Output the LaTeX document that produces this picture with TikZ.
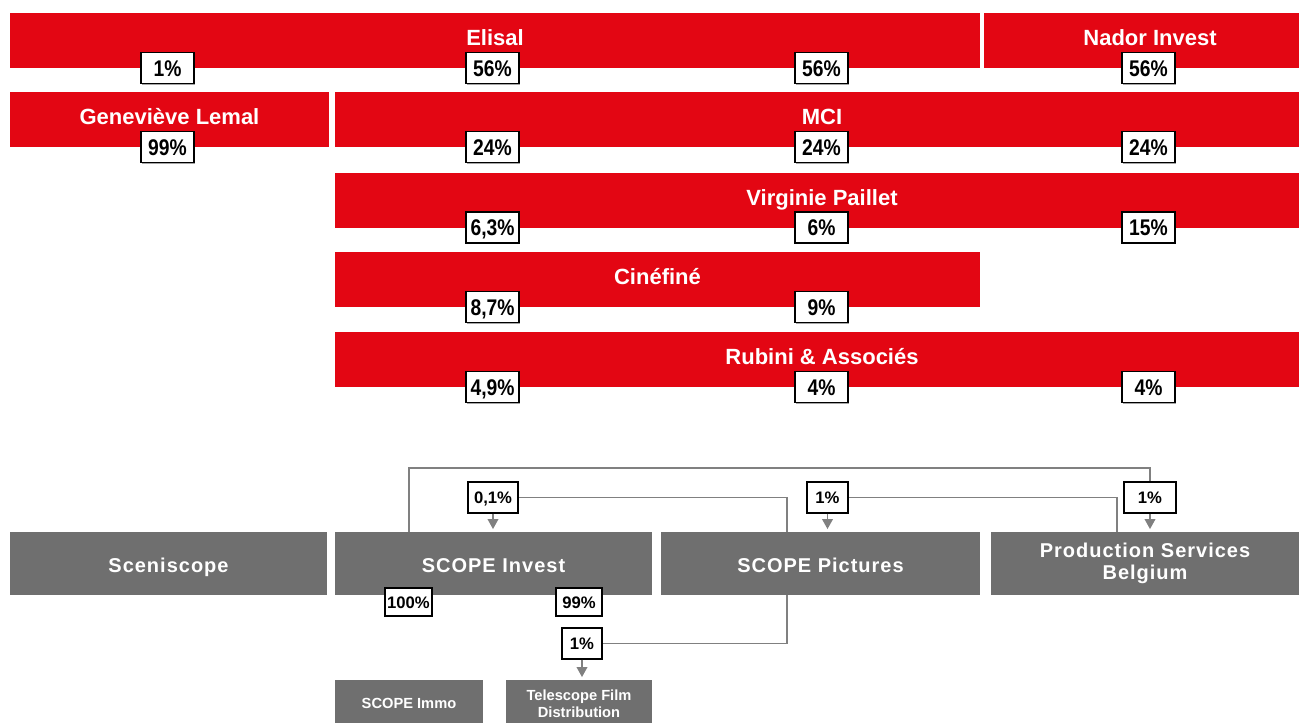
\documentclass[tikz,border=0pt]{standalone}
\usepackage{fontspec}
\setmainfont{Liberation Sans}
\newfontfamily\condfont{Liberation Sans}[FakeStretch=0.85]
\newfontfamily\spacedfont{Liberation Sans}[LetterSpace=5]
\usetikzlibrary{arrows.meta,shadows}
\definecolor{scred}{HTML}{E30613}
\definecolor{scgray}{HTML}{6F6F6F}
\definecolor{scline}{HTML}{808080}
\tikzset{
  box/.style 2 args={minimum width=#1*0.75pt, minimum height=#2*0.75pt},
  redbox/.style={fill=scred, text=white, inner sep=0pt,
    font=\bfseries\fontsize{16.5}{18}\selectfont, text height=12pt, text depth=5.25pt},
  graybox/.style={fill=scgray, text=white, inner sep=0pt, align=center,
    font=\spacedfont\bfseries\fontsize{15}{16.5}\selectfont},
  grayone/.style={graybox, text height=13.6pt, text depth=0pt},
  smallgray/.style={fill=scgray, text=white, inner sep=0pt, align=center,
    font=\bfseries\fontsize{11}{12.75}\selectfont},
  pctred/.style={fill=white, draw=black, line width=1.2pt, inner sep=0pt,
    minimum width=53*0.75pt, minimum height=31*0.75pt,
    drop shadow={shadow xshift=0.6pt, shadow yshift=-0.8pt, fill=black!35, opacity=1},
    font=\condfont\bfseries\fontsize{17}{18}\selectfont, text height=12.3pt, text depth=0pt},
  pctgray/.style={fill=white, draw=black, line width=0.9pt, inner sep=0pt,
    font=\bfseries\fontsize{12.5}{13}\selectfont, text height=9pt, text depth=0pt},
  conn/.style={draw=scline, line width=1.1pt},
  arr/.style={draw=scline, line width=1.1pt, shorten >=2pt, -{Triangle[width=8pt,length=7.5pt]}}
}
\begin{document}
\begin{tikzpicture}[x=0.75pt,y=-0.75pt]
\useasboundingbox (0,0) rectangle (1299,722);
\clip (0,0) rectangle (1299,722);

% red owners
\node[redbox, box={970}{55}] (elisal) at (495,40.5) {Elisal};
\node[redbox, box={332}{55}] (nador) at (1150,40.5) {Nador Invest};
\node[redbox, box={319}{55}] (lemal) at (169.5,119.5) {Geneviève Lemal};
\node[redbox, box={974}{55}] (mci) at (822,119.5) {MCI};
\node[redbox, box={974}{55}] (paillet) at (822,200.5) {Virginie Paillet};
\node[redbox, box={645}{55}] (cinefine) at (657.5,279.5) {Cinéfiné};
\node[redbox, box={974}{55}] (rubini) at (822,359.5) {Rubini \& Associés};

% percentages on red rows
\node[pctred] (e1) at (167.5,68) {1\%};
\node[pctred] (e2) at (492.5,68) {56\%};
\node[pctred] (e3) at (821.5,68) {56\%};
\node[pctred] (e4) at (1148.5,68) {56\%};
\node[pctred] (m1) at (167.5,147) {99\%};
\node[pctred] (m2) at (492.5,147) {24\%};
\node[pctred] (m3) at (821.5,147) {24\%};
\node[pctred] (m4) at (1148.5,147) {24\%};
\node[pctred] (v2) at (492.5,227.5) {6,3\%};
\node[pctred] (v3) at (821.5,227.5) {6\%};
\node[pctred] (v4) at (1148.5,227.5) {15\%};
\node[pctred] (c2) at (492.5,307) {8,7\%};
\node[pctred] (c3) at (821.5,307) {9\%};
\node[pctred] (r2) at (492.5,387) {4,9\%};
\node[pctred] (r3) at (821.5,387) {4\%};
\node[pctred] (r4) at (1148.5,387) {4\%};

% gray companies
\node[grayone, box={317}{63}] (sceniscope) at (168.5,563.5) {Sceniscope};
\node[grayone, box={317}{63}] (invest) at (493.5,563.5) {SCOPE Invest};
\node[grayone, box={319}{63}] (pictures) at (820.5,563.5) {SCOPE Pictures};
\node[graybox, box={308}{63}] (psb) at (1145,563.5) {Production Services\\Belgium};
\node[smallgray, box={148}{46}] (immo) at (409,703) {SCOPE Immo};
\node[smallgray, box={146}{48}] (telescope) at (579,704) {Telescope Film\\Distribution};

% percentage labels on gray part
\node[pctgray, box={50}{31}] (p01) at (493,497.5) {0,1\%};
\node[pctgray, box={41}{31}] (p1pic) at (827.5,497.5) {1\%};
\node[pctgray, box={52}{31}] (p1psb) at (1150,497.5) {1\%};
\node[pctgray, box={47}{28}] (p100) at (408.5,602) {100\%};
\node[pctgray, box={46}{28}] (p99) at (579,602) {99\%};
\node[pctgray, box={40}{31}] (p1tel) at (582,643.5) {1\%};

% connectors
\coordinate (kA) at (409,468);
\coordinate (kB) at (787,0);
\coordinate (kC) at (1117,0);
\draw[conn] (invest.north -| kA) -- (kA) -| (p1psb.north);
\draw[conn] (pictures.north -| kB) |- (p01.east);
\draw[conn] (psb.north -| kC) |- (p1pic.east);
\draw[conn] (pictures.south -| kB) |- (p1tel.east);
\draw[arr] (p01.south) -- (p01.south |- invest.north);
\draw[arr] (p1pic.south) -- (p1pic.south |- pictures.north);
\draw[arr] (p1psb.south) -- (p1psb.south |- psb.north);
\draw[arr] (p1tel.south) -- (p1tel.south |- telescope.north);
\end{tikzpicture}
\end{document}
